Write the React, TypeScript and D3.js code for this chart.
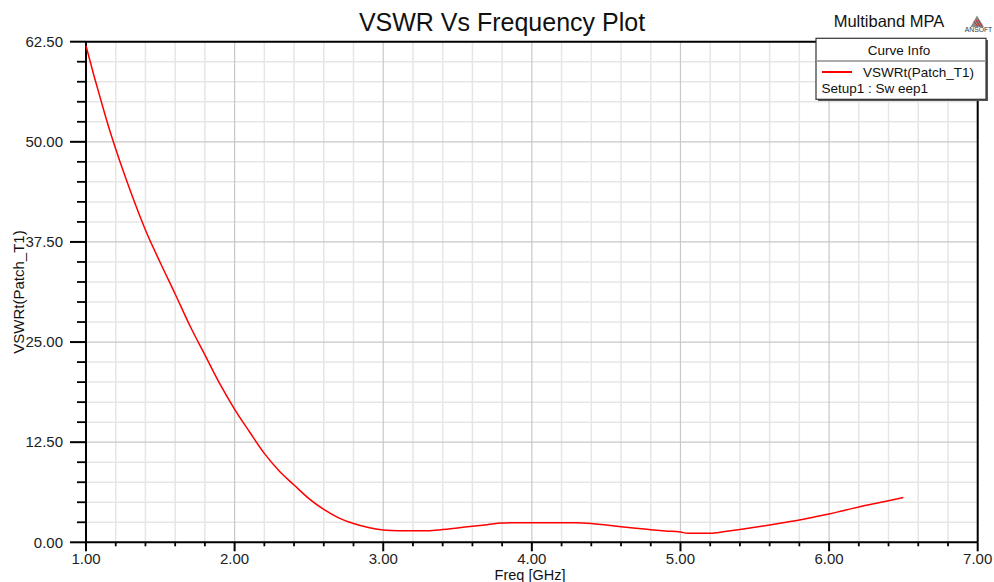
import React from "react";
import * as d3 from "d3";

const freqGHz = [1.0, 1.05, 1.1, 1.15, 1.2, 1.3, 1.4, 1.5, 1.6, 1.7, 1.8, 1.9, 2.0, 2.1, 2.2, 2.3, 2.4, 2.5, 2.6, 2.7, 2.8, 2.9, 3.0, 3.1, 3.3, 3.4, 3.5, 3.6, 3.7, 3.8, 3.9, 4.3, 4.4, 4.5, 4.6, 4.7, 4.8, 4.9, 5.0, 5.05, 5.2, 5.3, 5.4, 5.5, 5.6, 5.7, 5.8, 5.9, 6.0, 6.1, 6.2, 6.3, 6.4, 6.5];
const vswr = [62.0, 58.5, 55.2, 52.0, 49.1, 43.8, 39.0, 34.9, 31.0, 27.0, 23.4, 19.8, 16.6, 13.8, 11.1, 8.9, 7.15, 5.45, 4.1, 3.05, 2.35, 1.85, 1.55, 1.45, 1.45, 1.6, 1.8, 2.0, 2.2, 2.4, 2.45, 2.45, 2.35, 2.15, 1.95, 1.75, 1.58, 1.42, 1.28, 1.12, 1.12, 1.35, 1.6, 1.88, 2.16, 2.46, 2.78, 3.15, 3.52, 3.98, 4.42, 4.82, 5.2, 5.6];

const xMajorTicks = [1, 2, 3, 4, 5, 6, 7];
const xMinorTicks = d3.range(1, 7.0001, 0.2);
const yMajorTicks = [0, 12.5, 25, 37.5, 50, 62.5];
const yMinorTicks = d3.range(0, 62.5001, 2.5);

const title = "VSWR Vs Frequency Plot";
const subtitle = "Multiband MPA";
const xLabel = "Freq [GHz]";
const yLabel = "VSWRt(Patch_T1)";
const legendTitle = "Curve Info";
const legendSeries = "VSWRt(Patch_T1)";
const legendSetup = "Setup1 : Sw eep1";

const FONT = "'Liberation Sans', Arial, sans-serif";

export default function App() {
  const W = 994, H = 582;
  const x0 = 86, x1 = 977.7, y0 = 542.3, y1 = 41.7;
  const x = d3.scaleLinear().domain([1, 7]).range([x0, x1]);
  const y = d3.scaleLinear().domain([0, 62.5]).range([y0, y1]);
  const data = freqGHz.map((f, i) => [f, vswr[i]] as [number, number]);
  const line = d3.line<[number, number]>().x(d => x(d[0])).y(d => y(d[1])).curve(d3.curveMonotoneX);
  const isMajor = (v: number, step: number) => Math.abs(v / step - Math.round(v / step)) < 1e-6;

  return (
    <svg width={W} height={H} style={{ position: "absolute", left: 0, top: 0, background: "#fff" }} fontFamily={FONT}>
      <rect x={0} y={0} width={W} height={H} fill="#fff" />
      {/* minor grid */}
      {xMinorTicks.filter(v => !isMajor(v, 1)).map((v, i) => (
        <line key={"gx" + i} x1={x(v)} x2={x(v)} y1={y1} y2={y0} stroke="#e6e6e6" strokeWidth={1.5} />
      ))}
      {yMinorTicks.filter(v => !isMajor(v, 12.5)).map((v, i) => (
        <line key={"gy" + i} x1={x0} x2={x1} y1={y(v)} y2={y(v)} stroke="#e6e6e6" strokeWidth={1.5} />
      ))}
      {/* major grid */}
      {xMajorTicks.map((v, i) => (
        <line key={"GX" + i} x1={x(v)} x2={x(v)} y1={y1} y2={y0} stroke="#c8c8c8" strokeWidth={1.2} />
      ))}
      {yMajorTicks.map((v, i) => (
        <line key={"GY" + i} x1={x0} x2={x1} y1={y(v)} y2={y(v)} stroke="#c8c8c8" strokeWidth={1.2} />
      ))}
      {/* frame */}
      <line x1={x0} x2={x1} y1={y1} y2={y1} stroke="#000" strokeWidth={2} />
      <line x1={x1} x2={x1} y1={y1} y2={y0} stroke="#000" strokeWidth={2} />
      <line x1={x0} x2={x1} y1={y0} y2={y0} stroke="#000" strokeWidth={2} />
      <line x1={x0} x2={x0} y1={y1} y2={y0} stroke="#000" strokeWidth={2} />
      {/* y ticks */}
      {yMinorTicks.map((v, i) => {
        const maj = isMajor(v, 12.5);
        return <line key={"ty" + i} x1={x0 - (maj ? 16 : 9)} x2={x0} y1={y(v)} y2={y(v)} stroke="#000" strokeWidth={maj ? 2 : 1.8} />;
      })}
      {yMajorTicks.map((v, i) => (
        <text key={"ly" + i} x={63} y={y(v)} dy="0.35em" textAnchor="end" fontSize={15} fill="#222">{v.toFixed(2)}</text>
      ))}
      {/* x ticks */}
      {xMinorTicks.map((v, i) => {
        const maj = isMajor(v, 1);
        return <line key={"tx" + i} x1={x(v)} x2={x(v)} y1={y0} y2={y0 + (maj ? 9 : 4)} stroke="#000" strokeWidth={maj ? 2 : 1.8} />;
      })}
      {xMajorTicks.map((v, i) => (
        <text key={"lx" + i} x={x(v)} y={564} textAnchor="middle" fontSize={15} fill="#222">{v.toFixed(2)}</text>
      ))}
      {/* curve */}
      <path d={line(data) || ""} fill="none" stroke="#ff0000" strokeWidth={1.5} />
      {/* labels */}
      <text x={502} y={30.5} textAnchor="middle" fontSize={25} fill="#111">{title}</text>
      <text x={889} y={26.5} textAnchor="middle" fontSize={16.5} fill="#111">{subtitle}</text>
      <text x={530} y={579.5} textAnchor="middle" fontSize={14.5} fill="#111">{xLabel}</text>
      <text transform={`translate(24,${(y0 + y1) / 2}) rotate(-90)`} textAnchor="middle" fontSize={15} fill="#111">{yLabel}</text>
      {/* logo */}
      <g>
        <path d="M977,15.5 L984,27 L970.5,27 Z" fill="#8a8a8a" />
        <line x1={976} x2={980} y1={20} y2={26.5} stroke="#d01818" strokeWidth={0.9} />
        <line x1={978} x2={982} y1={19.5} y2={26.5} stroke="#d01818" strokeWidth={0.9} />
        <line x1={974} x2={978} y1={21.5} y2={26.5} stroke="#d01818" strokeWidth={0.9} />
        <text x={978.5} y={32.5} textAnchor="middle" fontSize={8} fill="#333" transform="translate(978.5,0) scale(0.85,1) translate(-978.5,0)">ANSOFT</text>
      </g>
      {/* legend */}
      <g>
        <rect x={818} y={40} width={170} height={61} fill="#555" />
        <rect x={816} y={38.3} width={170} height={61} fill="#fff" stroke="#333" strokeWidth={1.2} />
        <text x={899} y={55} textAnchor="middle" fontSize={13.5} fill="#111">{legendTitle}</text>
        <line x1={816.6} x2={985.4} y1={61} y2={61} stroke="#aaa" strokeWidth={2} />
        <line x1={822} x2={852} y1={72} y2={72} stroke="#ff0000" strokeWidth={2} />
        <text x={863} y={77} fontSize={13.5} fill="#111">{legendSeries}</text>
        <text x={821.5} y={92.5} fontSize={13.5} fill="#111">{legendSetup}</text>
      </g>
    </svg>
  );
}
